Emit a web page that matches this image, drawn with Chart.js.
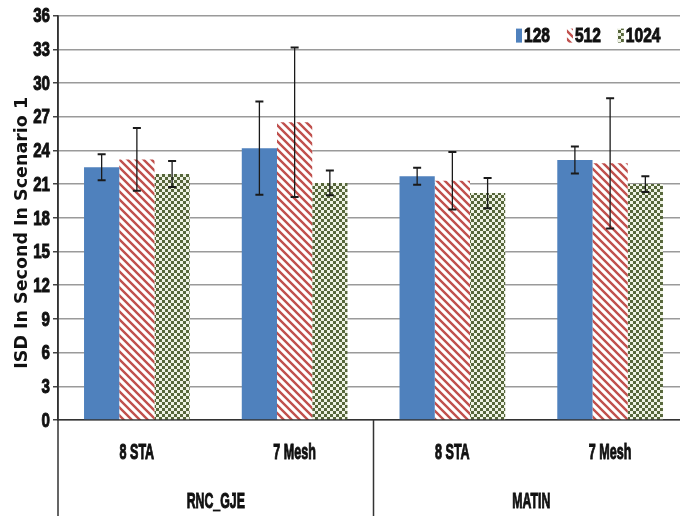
<!DOCTYPE html>
<html>
<head>
<meta charset="utf-8">
<script src="https://cdn.jsdelivr.net/npm/chart.js@4.4.0/dist/chart.umd.min.js"></script>
<style>
  html, body { margin: 0; padding: 0; background: #fff; overflow: hidden; }
  #wrap { width: 690px; height: 516px; }
</style>
</head>
<body>
<div id="wrap"><canvas id="isdChart" width="690" height="516"></canvas></div>
<script>
// categories and groups
const categories = ['8 STA', '7 Mesh', '8 STA', '7 Mesh'];
const groups = ['RNC_GJE', 'MATIN'];
const seriesNames = ['128', '512', '1024'];
const yTitle = 'ISD In Second In Scenario 1';

// mean values
const v128 = [22.5, 24.2, 21.7, 23.15];
const v512 = [23.2, 26.5, 21.3, 22.85];
const v1024 = [21.9, 21.1, 20.2, 21.0];

// error bar half-lengths
const e128 = [1.15, 4.15, 0.75, 1.2];
const e512 = [2.8, 6.65, 2.55, 5.8];
const e1024 = [1.15, 1.1, 1.35, 0.7];

// y ticks
const yMin = 0;
const yMax = 36;
const yStep = 3;

// the original uses a narrow bold face; no narrow font is installed,
// so labels are drawn with Liberation Sans Bold squeezed horizontally
const labelFamily = "'Liberation Sans', Arial, sans-serif";
const hidden = 'rgba(0,0,0,0)';

// hatch pattern "\\\" red on white
function makeStripes() {
  const c = document.createElement('canvas');
  c.width = 8; c.height = 8;
  const g = c.getContext('2d');
  g.fillStyle = '#ffffff';
  g.fillRect(0, 0, 8, 8);
  g.strokeStyle = '#c0504d';
  g.lineWidth = 2.4;
  g.beginPath();
  g.moveTo(-2, -2); g.lineTo(10, 10);
  g.moveTo(-10, -2); g.lineTo(2, 10);
  g.moveTo(6, -2); g.lineTo(18, 10);
  g.stroke();
  return g.createPattern(c, 'repeat');
}

// small checker pattern, olive on white
function makeChecker() {
  const c = document.createElement('canvas');
  c.width = 6; c.height = 6;
  const g = c.getContext('2d');
  g.fillStyle = '#eef2e4';
  g.fillRect(0, 0, 6, 6);
  g.fillStyle = '#56663a';
  g.fillRect(0, 0, 3, 3);
  g.fillRect(3, 3, 3, 3);
  return g.createPattern(c, 'repeat');
}

const errors = [e128, e512, e1024];

function squeezed(ctx, text, x, y, sx, align, size) {
  ctx.save();
  ctx.translate(x, y);
  ctx.scale(sx, 1);
  ctx.font = 'bold ' + size + 'px ' + labelFamily;
  ctx.textAlign = align;
  ctx.textBaseline = 'middle';
  ctx.fillStyle = '#111';
  ctx.strokeStyle = '#111';
  ctx.lineWidth = 1;
  ctx.fillText(text, 0, 0);
  ctx.strokeText(text, 0, 0);
  ctx.restore();
}

// draws the error bars with caps
const errorBars = {
  id: 'errorBars',
  afterDatasetsDraw(chart) {
    const ctx = chart.ctx;
    const y = chart.scales.y;
    ctx.save();
    ctx.strokeStyle = '#1a1a1a';
    chart.data.datasets.forEach((ds, i) => {
      const meta = chart.getDatasetMeta(i);
      meta.data.forEach((bar, j) => {
        const v = ds.data[j];
        const e = errors[i][j];
        const yt = y.getPixelForValue(v + e);
        const yb = y.getPixelForValue(v - e);
        ctx.lineWidth = 1.3;
        ctx.beginPath();
        ctx.moveTo(bar.x, yt); ctx.lineTo(bar.x, yb);
        ctx.stroke();
        ctx.lineWidth = 2;
        ctx.beginPath();
        ctx.moveTo(bar.x - 4, yt); ctx.lineTo(bar.x + 4, yt);
        ctx.moveTo(bar.x - 4, yb); ctx.lineTo(bar.x + 4, yb);
        ctx.stroke();
      });
    });
    ctx.restore();
  }
};

// left axis line, group divider, axis title and the narrow tick labels
const axisLines = {
  id: 'axisLines',
  afterDraw(chart) {
    const ctx = chart.ctx;
    const a = chart.chartArea;
    const x = chart.scales.x;
    const x2 = chart.scales.x2;
    const y = chart.scales.y;
    const mid = (x.getPixelForValue(1) + x.getPixelForValue(2)) / 2;
    ctx.save();
    ctx.strokeStyle = '#333';
    ctx.lineWidth = 1.5;
    ctx.beginPath();
    ctx.moveTo(a.left, a.top); ctx.lineTo(a.left, chart.height);
    ctx.moveTo(mid, a.bottom); ctx.lineTo(mid, chart.height);
    ctx.stroke();
    ctx.restore();

    // rotated y title, sitting a little below the axis middle as in the original
    ctx.save();
    ctx.translate(22, (a.top + a.bottom) / 2 + 15);
    ctx.rotate(-Math.PI / 2);
    ctx.font = "bold 17.5px 'DejaVu Sans', sans-serif";
    ctx.textAlign = 'center';
    ctx.textBaseline = 'middle';
    ctx.fillStyle = '#111';
    ctx.fillText(yTitle, 0, 0);
    ctx.restore();

    y.ticks.forEach((t, i) => {
      squeezed(ctx, String(t.value), a.left - 8, y.getPixelForTick(i) + 1, 0.72, 'right', 21);
    });
    x.ticks.forEach((t, i) => {
      squeezed(ctx, categories[i], x.getPixelForTick(i), a.bottom + 33, 0.57, 'center', 22);
    });
    x2.ticks.forEach((t, i) => {
      squeezed(ctx, groups[i], x2.getPixelForTick(i), a.bottom + 82, 0.56, 'center', 22);
    });
  }
};

// legend inside the top-right of the plot
const insideLegend = {
  id: 'insideLegend',
  afterDraw(chart) {
    const ctx = chart.ctx;
    const a = chart.chartArea;
    const cy = a.top + 20;
    let x = 516;
    chart.data.datasets.forEach((ds) => {
      ctx.save();
      ctx.fillStyle = ds.backgroundColor;
      ctx.fillRect(x, cy - 7, 6, 14);
      ctx.restore();
      squeezed(ctx, ds.label, x + 8, cy + 1, 0.74, 'left', 21);
      ctx.save();
      ctx.font = 'bold 21px ' + labelFamily;
      x += 8 + ctx.measureText(ds.label).width * 0.74 + 17;
      ctx.restore();
    });
  }
};

new Chart(document.getElementById('isdChart'), {
  type: 'bar',
  data: {
    labels: categories,
    datasets: [
      { label: seriesNames[0], data: v128, backgroundColor: '#4f81bd' },
      { label: seriesNames[1], data: v512, backgroundColor: makeStripes() },
      { label: seriesNames[2], data: v1024, backgroundColor: makeChecker() }
    ]
  },
  options: {
    responsive: false,
    animation: false,
    layout: { padding: { top: 14, right: 1, left: 0, bottom: 0 } },
    datasets: { bar: { categoryPercentage: 0.67, barPercentage: 1.0 } },
    plugins: {
      tooltip: { enabled: false },
      legend: { display: false }
    },
    scales: {
      y: {
        min: yMin,
        max: yMax,
        afterFit(s) { s.width = 58; },
        ticks: {
          stepSize: yStep,
          padding: 3,
          color: hidden,
          font: { family: labelFamily, size: 21, weight: 'bold' }
        },
        grid: { color: '#9a9a9a', lineWidth: 1.5, tickLength: 5, tickColor: '#444' },
        border: { color: '#333', width: 1.5 },
        title: { display: false, text: yTitle }
      },
      x: {
        weight: 0,
        afterFit(s) { s.height = 58; },
        grid: { display: false, drawTicks: false },
        border: { color: '#333', width: 1.5 },
        ticks: {
          padding: 24,
          color: hidden,
          font: { family: labelFamily, size: 20, weight: 'bold' }
        }
      },
      x2: {
        type: 'category',
        position: 'bottom',
        weight: 1,
        labels: groups,
        offset: true,
        afterFit(s) { s.height = 38; },
        grid: { display: false, drawTicks: false },
        border: { display: false },
        ticks: {
          padding: 14,
          color: hidden,
          font: { family: labelFamily, size: 20, weight: 'bold' }
        }
      }
    }
  },
  plugins: [errorBars, axisLines, insideLegend]
});
</script>
</body>
</html>
